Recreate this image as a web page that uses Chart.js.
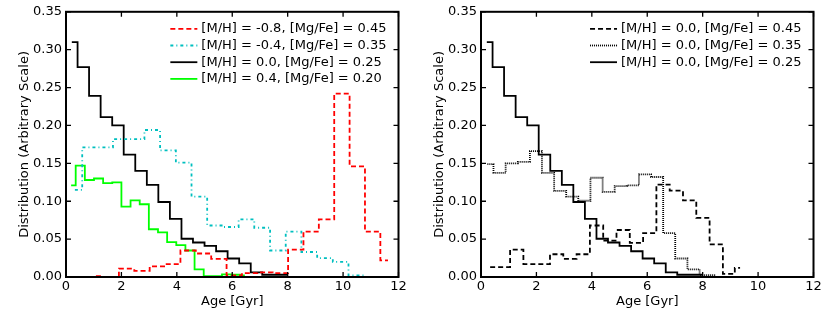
<!DOCTYPE html>
<html>
<head>
<meta charset="utf-8">
<script src="https://cdn.jsdelivr.net/npm/chart.js@4.4.1/dist/chart.umd.min.js"></script>
<style>
  html, body { margin: 0; padding: 0; background: #fff; }
  #wrap { display: flex; width: 830px; height: 312px; }
</style>
</head>
<body>
<div id="wrap">
  <canvas id="chart-left" width="415" height="312"></canvas>
  <canvas id="chart-right" width="415" height="312"></canvas>
</div>
<script>
// axis ticks
const xTicks = [0, 2, 4, 6, 8, 10, 12];
const yTicks = [0, 0.05, 0.1, 0.15, 0.2, 0.25, 0.3, 0.35];

// left panel: [M/H] = -0.8, [Mg/Fe] = 0.45
const ageM08 = [1.08, 1.63, 2.19, 2.74, 3.30, 3.85, 4.41, 4.96, 5.52, 6.07, 6.63, 7.18, 7.74, 8.29, 8.85, 9.40, 9.96, 10.51, 11.07, 11.62];
const distM08 = [0.001, 0, 0.011, 0.008, 0.014, 0.017, 0.035, 0.031, 0.024, 0.002, 0.005, 0.006, 0.005, 0.036, 0.060, 0.076, 0.242, 0.146, 0.060, 0.022];

// [M/H] = -0.4, [Mg/Fe] = 0.35
const ageM04 = [0.32, 0.85, 1.41, 1.98, 2.55, 3.11, 3.68, 4.25, 4.81, 5.38, 5.95, 6.51, 7.08, 7.65, 8.21, 8.78, 9.35, 9.91, 10.48, 11.05];
const distM04 = [0.115, 0.171, 0.171, 0.182, 0.182, 0.194, 0.167, 0.151, 0.106, 0.068, 0.066, 0.076, 0.065, 0.035, 0.060, 0.033, 0.025, 0.020, 0.002, 0];

// [M/H] = 0.0, [Mg/Fe] = 0.25 (in both panels)
const ageM00 = [0.21, 0.625, 1.04, 1.46, 1.875, 2.29, 2.71, 3.125, 3.54, 3.96, 4.375, 4.79, 5.21, 5.625, 6.04, 6.46, 6.875, 7.29, 7.71, 7.98];
const distM00 = [0.310, 0.277, 0.239, 0.211, 0.200, 0.1615, 0.140, 0.1215, 0.099, 0.0766, 0.0505, 0.0455, 0.041, 0.034, 0.0244, 0.018, 0.006, 0.003, 0.003, 0.003];

// [M/H] = 0.4, [Mg/Fe] = 0.20
const ageP04 = [0.185, 0.515, 0.845, 1.175, 1.505, 1.835, 2.165, 2.495, 2.825, 3.155, 3.485, 3.815, 4.145, 4.475, 4.805, 5.135, 5.465, 5.795, 6.125, 6.455];
const distP04 = [0.121, 0.147, 0.128, 0.130, 0.124, 0.125, 0.093, 0.101, 0.096, 0.063, 0.059, 0.046, 0.042, 0.035, 0.010, 0.001, 0.001, 0.0035, 0.003, 0.002];

// right panel: [M/H] = 0.0, [Mg/Fe] = 0.45
const ageMg45 = [0.33, 0.81, 1.29, 1.77, 2.25, 2.73, 3.21, 3.69, 4.17, 4.65, 5.13, 5.61, 6.09, 6.57, 7.05, 7.53, 8.01, 8.49, 8.97, 9.35];
const distMg45 = [0.013, 0.013, 0.036, 0.017, 0.017, 0.030, 0.024, 0.030, 0.068, 0.048, 0.062, 0.045, 0.058, 0.122, 0.114, 0.101, 0.078, 0.043, 0.004, 0.012];

// [M/H] = 0.0, [Mg/Fe] = 0.35
const ageMg35 = [0.23, 0.67, 1.11, 1.55, 1.98, 2.42, 2.86, 3.29, 3.73, 4.17, 4.61, 5.04, 5.48, 5.92, 6.36, 6.79, 7.23, 7.67, 8.11, 8.48];
const distMg35 = [0.149, 0.1375, 0.150, 0.152, 0.166, 0.1375, 0.1136, 0.106, 0.1006, 0.131, 0.1123, 0.120, 0.121, 0.1354, 0.132, 0.058, 0.0244, 0.010, 0.0026, 0.0026];

Chart.defaults.font.family = '"DejaVu Sans", sans-serif';
Chart.defaults.font.size = 13;
Chart.defaults.color = '#000';

function points(ages, vals) {
  return ages.map((a, i) => ({ x: a, y: vals[i] }));
}

function series(label, ages, vals, color, dash) {
  return {
    label: label,
    data: points(ages, vals),
    borderColor: color,
    borderWidth: 1.8,
    borderDash: dash,
    stepped: 'middle',
    pointRadius: 0,
    fill: false
  };
}

// box around the plot with inward ticks on all four sides
const framePlugin = {
  id: 'frame',
  afterDatasetsDraw(chart) {
    const ctx = chart.ctx, a = chart.chartArea;
    const sx = chart.scales.x, sy = chart.scales.y;
    ctx.save();
    ctx.strokeStyle = '#000';
    ctx.lineWidth = 1.3;
    ctx.beginPath();
    sx.ticks.forEach(t => {
      const px = sx.getPixelForValue(t.value);
      ctx.moveTo(px, a.bottom); ctx.lineTo(px, a.bottom - 5);
      ctx.moveTo(px, a.top); ctx.lineTo(px, a.top + 5);
    });
    sy.ticks.forEach(t => {
      const py = sy.getPixelForValue(t.value);
      ctx.moveTo(a.left, py); ctx.lineTo(a.left + 5, py);
      ctx.moveTo(a.right, py); ctx.lineTo(a.right - 5, py);
    });
    ctx.stroke();
    ctx.lineWidth = 2;
    ctx.strokeRect(a.left, a.top, a.right - a.left, a.bottom - a.top);
    ctx.restore();
  }
};

// legend in the upper right corner, no frame
const legendPlugin = {
  id: 'innerLegend',
  afterDraw(chart) {
    const ctx = chart.ctx, a = chart.chartArea;
    const sets = chart.data.datasets;
    ctx.save();
    ctx.font = '13px "DejaVu Sans"';
    ctx.textBaseline = 'middle';
    const w = Math.max(...sets.map(d => ctx.measureText(d.label).width));
    const tx = a.right - 12 - w;
    sets.forEach((d, i) => {
      const ly = a.top + 17 + i * 16.7;
      ctx.strokeStyle = d.borderColor;
      ctx.lineWidth = d.borderWidth;
      ctx.setLineDash(d.borderDash || []);
      ctx.beginPath();
      ctx.moveTo(tx - 31, ly);
      ctx.lineTo(tx - 4, ly);
      ctx.stroke();
      ctx.setLineDash([]);
      ctx.fillStyle = '#000';
      ctx.fillText(d.label, tx, ly);
    });
    ctx.restore();
  }
};

function makeChart(id, datasets) {
  return new Chart(document.getElementById(id), {
    type: 'line',
    data: { datasets: datasets },
    options: {
      responsive: false,
      animation: false,
      layout: { padding: { top: 9, right: 16.5, left: 0, bottom: 0 } },
      plugins: { legend: { display: false }, tooltip: { enabled: false } },
      scales: {
        x: {
          type: 'linear',
          min: 0,
          max: 12,
          afterBuildTicks: s => { s.ticks = xTicks.map(v => ({ value: v })); },
          afterFit: s => { s.height = 35; },
          grid: { display: false, drawTicks: false },
          border: { display: false },
          ticks: { padding: 2, maxRotation: 0, autoSkip: false },
          title: { display: true, text: 'Age [Gyr]', padding: { top: 0, bottom: 3 } }
        },
        y: {
          type: 'linear',
          min: 0,
          max: 0.35,
          afterBuildTicks: s => { s.ticks = yTicks.map(v => ({ value: v })); },
          afterFit: s => { s.width = 66; },
          grid: { display: false, drawTicks: false },
          border: { display: false },
          ticks: { padding: 4, callback: v => v.toFixed(2) },
          title: { display: true, text: 'Distribution (Arbitrary Scale)', padding: { top: 17, bottom: 0 } }
        }
      }
    },
    plugins: [framePlugin, legendPlugin]
  });
}

makeChart('chart-left', [
  series('[M/H] = -0.8, [Mg/Fe] = 0.45', ageM08, distM08, '#ff0000', [5, 3]),
  series('[M/H] = -0.4, [Mg/Fe] = 0.35', ageM04, distM04, '#00bfbf', [3, 3, 1, 3]),
  series('[M/H] = 0.0, [Mg/Fe] = 0.25', ageM00, distM00, '#000000', []),
  series('[M/H] = 0.4, [Mg/Fe] = 0.20', ageP04, distP04, '#00ff00', [])
]);

makeChart('chart-right', [
  series('[M/H] = 0.0, [Mg/Fe] = 0.45', ageMg45, distMg45, '#000000', [5, 3]),
  series('[M/H] = 0.0, [Mg/Fe] = 0.35', ageMg35, distMg35, '#000000', [1, 1]),
  series('[M/H] = 0.0, [Mg/Fe] = 0.25', ageM00, distM00, '#000000', [])
]);
</script>
</body>
</html>
